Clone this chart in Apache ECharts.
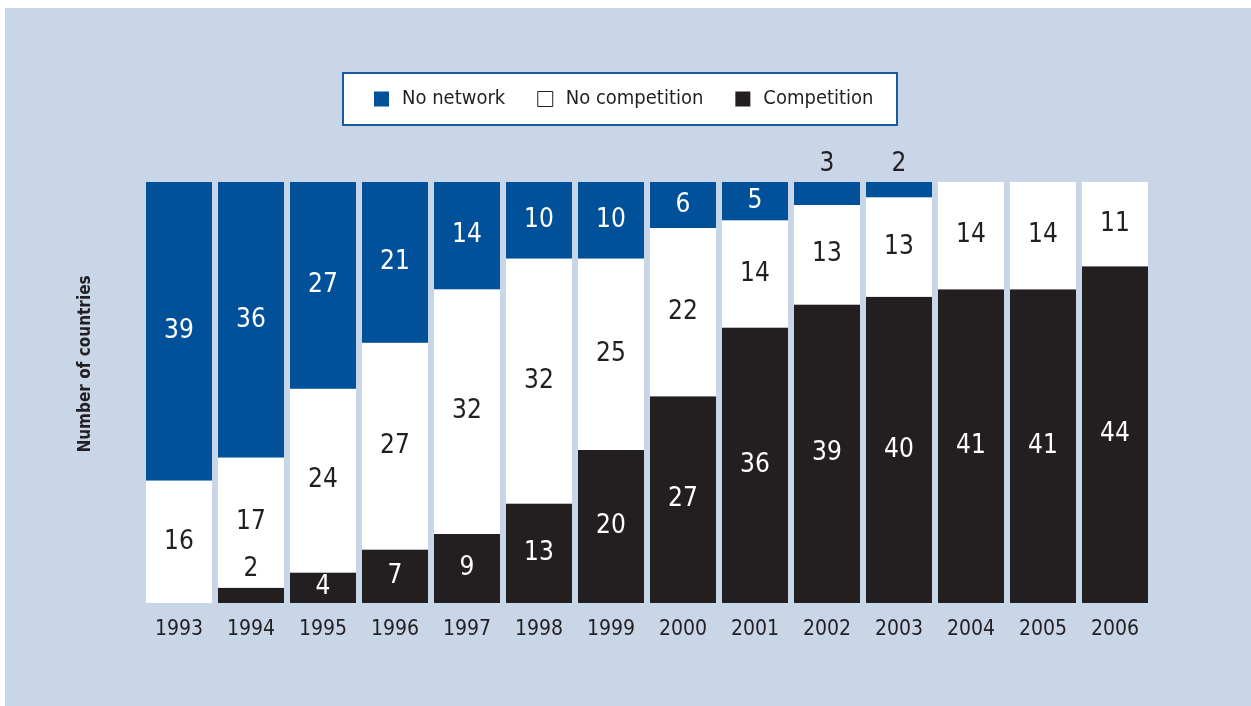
<!DOCTYPE html>
<html>
<head>
<meta charset="utf-8">
<script src="https://cdn.jsdelivr.net/npm/echarts@6/dist/echarts.min.js"></script>
<style>
  html, body { margin: 0; padding: 0; background: #ffffff; }
  #wrap { position: relative; width: 1251px; height: 706px; overflow: hidden; }
  #panel { position: absolute; left: 5px; top: 8px; width: 1246px; height: 698px; background: #c9d6e8; }
  #chart { position: absolute; left: 0; top: 0; width: 1251px; height: 706px; }
</style>
</head>
<body>
<div id="wrap">
  <div id="panel"></div>
  <div id="chart"></div>
</div>
<script>
// Number of countries by market status, 1993-2006
var years = ['1993','1994','1995','1996','1997','1998','1999','2000','2001','2002','2003','2004','2005','2006'];
var competition   = [0, 2, 4, 7, 9, 13, 20, 27, 36, 39, 40, 41, 41, 44];
var noCompetition = [16, 17, 24, 27, 32, 32, 25, 22, 14, 13, 13, 14, 14, 11];
var noNetwork     = [39, 36, 27, 21, 14, 10, 10, 6, 5, 3, 2, 0, 0, 0];

var FONT = "'Liberation Sans Narrow', 'DejaVu Sans Condensed', 'Roboto', sans-serif";
var INK = '#231f20';
var BLUE = '#00519a';

// Small segments get their label just above the segment, in dark ink.
function buildData(values) {
  return values.map(function (v) {
    if (v > 0 && v <= 3) {
      return { value: v, label: { position: 'top', distance: 5, color: INK } };
    }
    return v;
  });
}

function seriesDef(name, values, color, labelColor) {
  return {
    name: name,
    type: 'bar',
    stack: 'total',
    barWidth: 66,
    data: buildData(values),
    itemStyle: { color: color },
    label: {
      show: true,
      position: 'inside',
      color: labelColor,
      fontFamily: FONT,
      fontSize: 26,
      formatter: function (p) { return p.value ? String(p.value) : ''; }
    },
    emphasis: { disabled: true }
  };
}

var chart = echarts.init(document.getElementById('chart'), null, { renderer: 'canvas' });
chart.setOption({
  backgroundColor: 'transparent',
  animation: false,
  textStyle: { fontFamily: FONT, color: INK },
  graphic: [
    {
      type: 'rect',
      shape: { x: 343, y: 73, width: 554, height: 52 },
      style: { fill: '#ffffff', stroke: '#1b5a9e', lineWidth: 2 },
      z: 1
    },
    {
      type: 'text',
      x: 86,
      y: 364,
      rotation: Math.PI / 2,
      style: {
        text: 'Number of countries',
        font: 'bold 17px ' + FONT,
        fill: INK,
        textAlign: 'center',
        textVerticalAlign: 'middle'
      },
      z: 5
    }
  ],
  legend: {
    left: 374,
    top: 89,
    padding: 0,
    itemWidth: 15,
    itemHeight: 15,
    itemGap: 32,
    icon: 'rect',
    textStyle: { fontFamily: FONT, fontSize: 20, color: INK, padding: [0, 0, 0, 8] },
    data: [
      { name: 'No network' },
      { name: 'No competition', itemStyle: { color: '#ffffff', borderColor: INK, borderWidth: 1 } },
      { name: 'Competition' }
    ],
    z: 10
  },
  grid: { left: 143, top: 182, width: 1008, height: 421, containLabel: false },
  xAxis: {
    type: 'category',
    data: years,
    axisLine: { show: false },
    axisTick: { show: false },
    axisLabel: { fontFamily: FONT, fontSize: 21, color: INK, margin: 16 }
  },
  yAxis: {
    type: 'value',
    min: 0,
    max: 55,
    show: false,
    splitLine: { show: false }
  },
  series: [
    seriesDef('Competition', competition, INK, '#ffffff'),
    seriesDef('No competition', noCompetition, '#ffffff', INK),
    seriesDef('No network', noNetwork, BLUE, '#ffffff')
  ]
});
</script>
</body>
</html>
